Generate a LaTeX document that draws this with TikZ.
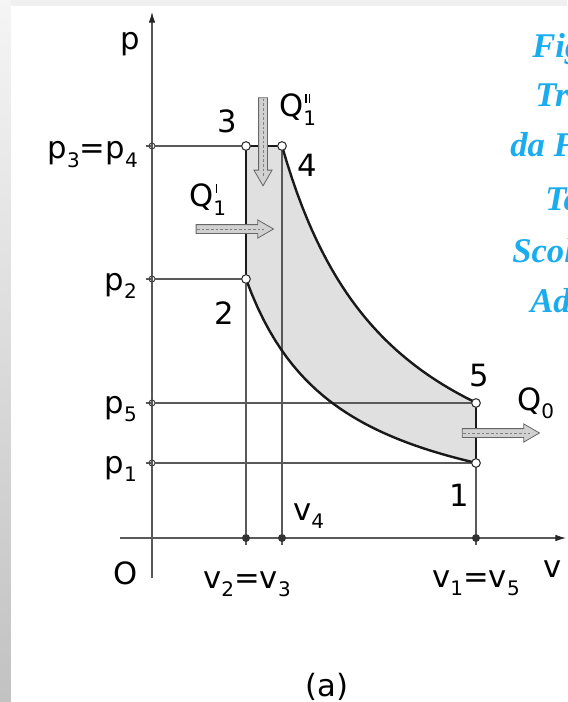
\documentclass[tikz,border=0pt]{standalone}
\usepackage{fontspec}
\setmainfont{DejaVu Sans}
\newfontfamily\notefont{Liberation Serif}
\usetikzlibrary{arrows.meta,shapes.arrows}
\definecolor{notecyan}{RGB}{25,172,238}
\newcommand{\lo}[1]{\raisebox{-6.5pt}{\fontsize{15}{15}\selectfont #1}}
\newcommand{\tick}{\rule[10.5pt]{0.9pt}{6.5pt}}
\begin{document}
\begin{tikzpicture}[x=0.75pt,y=-0.75pt,
    every node/.style={inner sep=0pt,font=\fontsize{23}{24}\selectfont},
    thinline/.style={black!65,line width=0.9pt},
    cycleline/.style={black!90,line width=1.8pt},
    axis/.style={thinline,-{Latex[length=8pt,width=5pt,color=black!85]}},
    pt/.style={circle,draw=black!80,line width=0.8pt,fill=white,minimum size=6.5pt},
    pmark/.style={circle,draw=black!75,line width=0.7pt,minimum size=4.5pt},
    vmark/.style={circle,fill=black!80,minimum size=6pt},
    heat/.style={single arrow,draw=black!60,fill=black!18,line width=0.6pt,inner ysep=3pt,
      single arrow head extend=3.5pt,single arrow tip angle=60},
    heatline/.style={black!50,line width=0.7pt,dash pattern=on 2pt off 1.5pt,shorten >=8pt,shorten <=1pt},
    note/.style={anchor=base west,text=notecyan,font=\notefont\bfseries\itshape\fontsize{26}{28}\selectfont}]
    \useasboundingbox (0,0) rectangle (567,702);
    \clip (0,0) rectangle (567,702);
    \fill[black!6] (0,0) rectangle (567,702);
    \shade[top color=black!4,bottom color=black!24] (0,0) rectangle (11,702);
    \fill[white] (11,6) rectangle (567,702);
    \coordinate (c1) at (476,463);
    \coordinate (c2) at (246,279);
    \coordinate (c3) at (246,146);
    \coordinate (c4) at (282,146);
    \coordinate (c5) at (476,403);
    \coordinate (pbot) at (152,578);
    \coordinate (ptop) at (152,12);
    \coordinate (vleft) at (120,538);
    \coordinate (vright) at (566,538);
    \fill[black!12] (c2) -- (c3) -- (c4)
      -- plot[domain=130:324,samples=40] ({152+\x},{538-392*(130/\x)^1.165})
      -- (c1) -- plot[domain=324:94,samples=40] ({152+\x},{538-259*(94/\x)}) -- cycle;
    \draw[axis] (pbot) -- (ptop);
    \draw[axis] (vleft) -- (vright);
    \foreach \y/\n in {146/34,279/2,403/5,463/1} {
      \draw[thinline] (152,\y) -- ++(-6,0);
      \node[pmark] (m\n) at (152,\y) {};
    }
    \foreach \x/\n in {246/23,282/4,476/15} {
      \draw[thinline] (\x,538) -- ++(0,7);
      \node[vmark] (n\n) at (\x,538) {};
    }
    \draw[thinline] (m34) -- (c3);
    \draw[thinline] (m2) -- (c2);
    \draw[thinline] (m5) -- (c5);
    \draw[thinline] (m1) -- (c1);
    \draw[thinline] (n23) -- (c2);
    \draw[thinline] (n4) -- (c4);
    \draw[thinline] (n15) -- (c1);
    \draw[cycleline] (c2) -- (c3) -- (c4);
    \draw[cycleline] plot[domain=130:324,samples=40] ({152+\x},{538-392*(130/\x)^1.165});
    \draw[cycleline] (c5) -- (c1);
    \draw[cycleline] plot[domain=94:324,samples=40] ({152+\x},{538-259*(94/\x)});
    \node[heat,rotate=-90,minimum height=66pt] (q1b) at (263,138) {};
    \node[heat,minimum height=58pt] (q1a) at (231,229) {};
    \node[heat,minimum height=58pt] (q0) at (497,433) {};
    \foreach \q in {q1b,q1a,q0}
      \draw[heatline] (\q.tail) -- (\q.tip);
    \foreach \n in {1,...,5}
      \node[pt] (s\n) at (c\n) {};
    \node[anchor=base] (lp) at (130,50) {p};
    \node[anchor=base east] (lp34) at (138,159) {p\lo{3}=p\lo{4}};
    \node[anchor=base east] (lp2) at (137,290) {p\lo{2}};
    \node[anchor=base east] (lp5) at (137,413) {p\lo{5}};
    \node[anchor=base east] (lp1) at (137,473) {p\lo{1}};
    \node[anchor=base] (lO) at (126,584) {O};
    \node[anchor=base] (lv) at (553,577) {v};
    \node[anchor=base] (lv23) at (247,588) {v\lo{2}=v\lo{3}};
    \node[anchor=base] (lv15) at (476,587) {v\lo{1}=v\lo{5}};
    \node[anchor=base west] (lv4) at (293,520) {v\lo{4}};
    \node[anchor=base] (l3) at (227,133) {3};
    \node[anchor=base] (l4) at (307,177) {4};
    \node[anchor=base] (l2) at (224,324) {2};
    \node[anchor=base] (l5) at (479,386) {5};
    \node[anchor=base] (l1) at (459,506) {1};
    \node[anchor=base west] (lq1b) at (279,117) {Q\rlap{\hspace{1.5pt}\tick\hspace{2pt}\tick}\lo{1}};
    \node[anchor=base west] (lq1a) at (189,207) {Q\rlap{\hspace{2pt}\tick}\lo{1}};
    \node[anchor=base west] (lq0) at (517,410) {Q\lo{0}};
    \node[anchor=base] (la) at (327,696) {(a)};
    \node[note] (t1) at (532,58) {Fig};
    \node[note] (t2) at (535,107) {Tr};
    \node[note] (t3) at (510,157) {da F};
    \node[note] (t4) at (545,210) {Te};
    \node[note] (t5) at (512,262) {Scol};
    \node[note] (t6) at (530,312) {Ad};
\end{tikzpicture}
\end{document}
